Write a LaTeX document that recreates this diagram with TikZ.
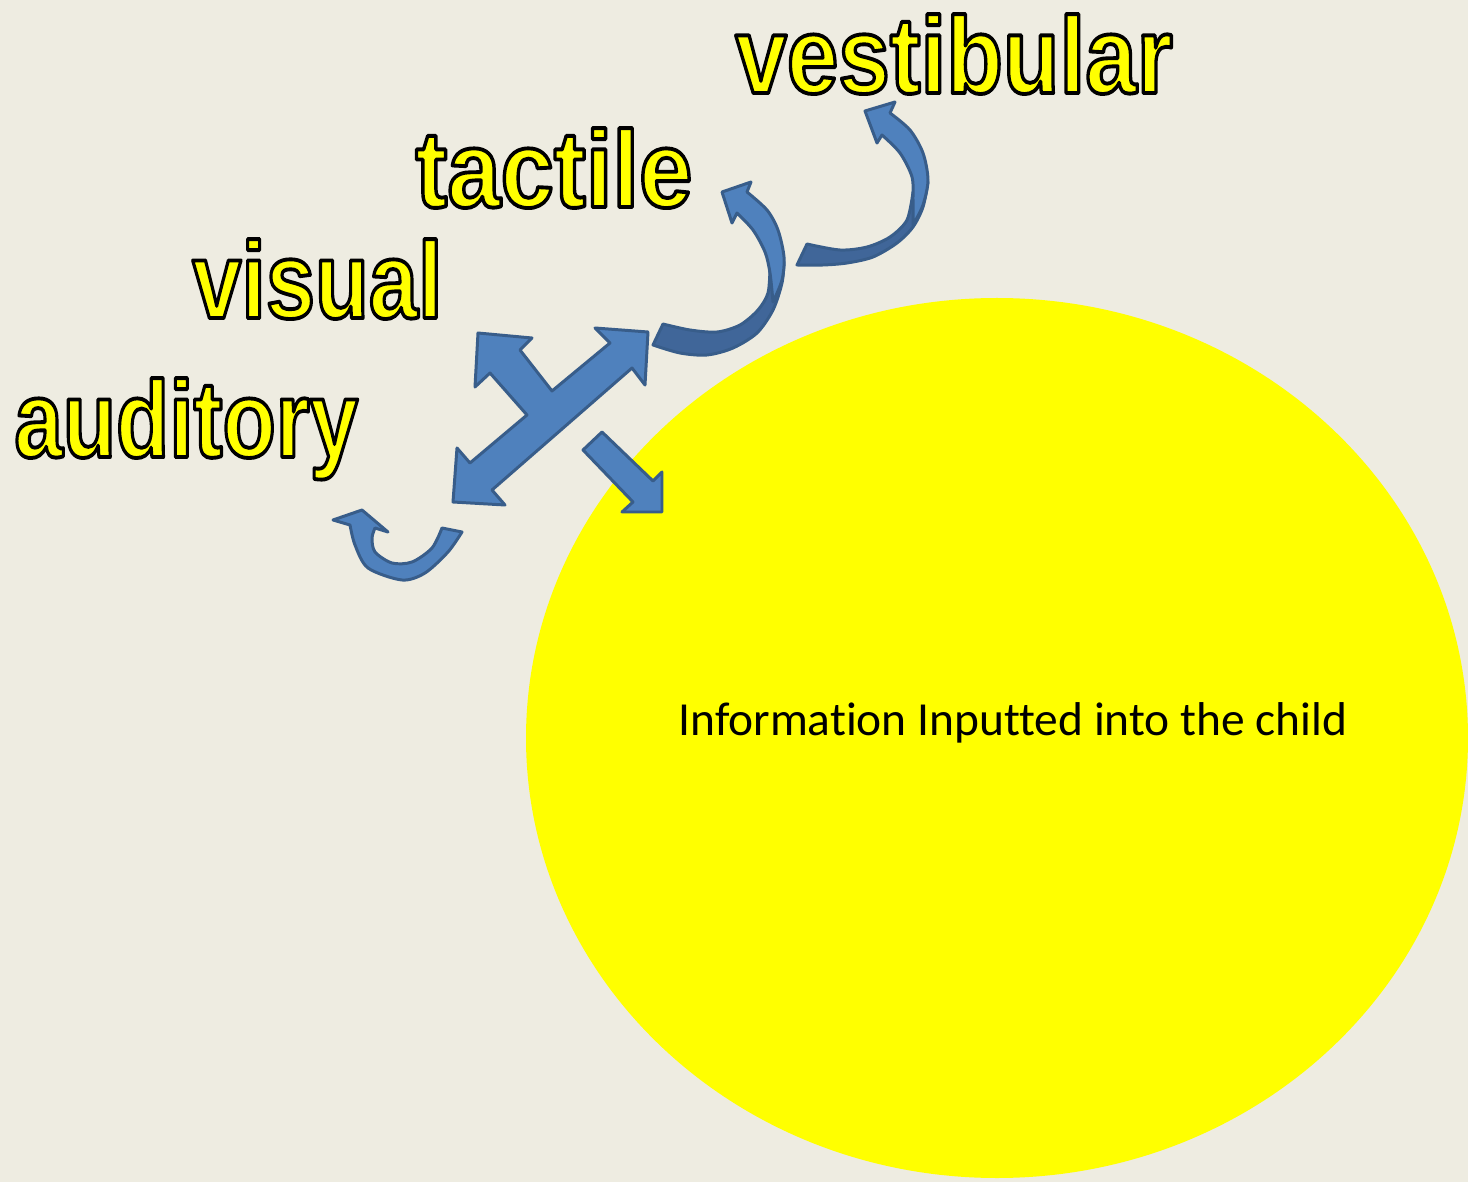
\documentclass[tikz,border=0pt]{standalone}
\usepackage{fontspec}
\usepackage{graphicx}
\newfontfamily\sensefont{Liberation Sans}
\newfontfamily\notefont{Carlito}[Ligatures=NoCommon]
\definecolor{slidecream}{RGB}{238,236,225}
\definecolor{childyellow}{RGB}{255,255,0}
\definecolor{arrowblue}{RGB}{79,129,189}
\definecolor{arrowedge}{RGB}{56,93,138}
\definecolor{arrowshade}{RGB}{64,102,153}
% outlined, squeezed word (fill then stroke the glyphs)
\newcommand{\senseword}[2]{\scalebox{#1}[1]{\special{pdf:literal direct 0 0 0 RG 2.2 w 1 j 2 Tr}#2\special{pdf:literal direct 0 Tr}}}

\begin{document}
\begin{tikzpicture}[
    x=0.02cm, y=-0.02cm,
    sense/.style={anchor=base west, inner sep=0pt, text=childyellow, font=\sensefont\bfseries\fontsize{62}{70}\selectfont},
    note/.style={font=\notefont\fontsize{27}{32}\selectfont, text=black},
    blockarrow/.style={fill=arrowblue, draw=arrowedge, line width=1.7pt, line join=round},
    shadearrow/.style={fill=arrowshade, draw=arrowedge, line width=1.7pt, line join=round}
]

% Slide
\useasboundingbox (0,0) rectangle (1468,1182);
\clip (0,0) rectangle (1468,1182);
\fill[slidecream] (0,0) rectangle (1468,1182);

% Child
\fill[childyellow] (997,738) ellipse [x radius=471, y radius=440];
\node[note] (child) at (1013,723) {Information Inputted into the child};

% Senses
\node[sense] (vestibular) at (735,93) {\senseword{0.85}{vestibular}};
\node[sense] (tactile) at (415,207) {\senseword{0.88}{tactile}};
\node[sense] (visual) at (192,318) {\senseword{0.81}{visual}};
\node[sense] (auditory) at (14,457) {\senseword{0.80}{auditory}};

% Cross arrow
\filldraw[blockarrow] (648,332) -- (645,385) -- (632,368) -- (492,490) -- (505,505)
  -- (453,502) -- (457,448) -- (470,463) -- (527,415) -- (490,373) -- (475,387)
  -- (478,333) -- (532,338) -- (520,350) -- (552,391) -- (610,343) -- (595,328) -- cycle;

% Into the child
\filldraw[blockarrow] (583,450) -- (602,432) -- (653,481) -- (662,472) -- (662,512)
  -- (622,512) -- (633,502) -- cycle;

% Auditory loop
\filldraw[blockarrow] plot[smooth] coordinates {(350,525) (355,545) (368,568) (402,580) (425,573) (448,552) (462,532)}
  -- plot[smooth] coordinates {(442,528) (432,548) (412,562) (392,563) (375,552) (372,538) (375,528)}
  -- (388,532) -- (362,510) -- (333,520) -- cycle;

% Tactile loop
\filldraw[shadearrow] plot[smooth] coordinates {(653,345) (680,353) (707,355) (733,348) (757,333) (773,310) (782,283) (784,262)}
  -- plot[smooth] coordinates {(770,268) (768,293) (758,310) (740,325) (717,332) (690,330) (663,324)} -- cycle;
\filldraw[blockarrow] plot[smooth] coordinates {(773,302) (782,280) (784,257) (778,230) (767,210) (747,192)}
  -- (751,182) -- (722,192) -- (732,223) -- (737,213)
  -- plot[smooth] coordinates {(737,213) (753,230) (765,252) (770,273) (773,302)} -- cycle;

% Vestibular loop
\filldraw[shadearrow] plot[smooth] coordinates {(797,265) (823,265) (847,263) (873,257) (897,243) (913,227) (923,207) (928,182)}
  -- plot[smooth] coordinates {(913,192) (907,220) (890,237) (867,247) (840,250) (807,244)} -- cycle;
\filldraw[blockarrow] plot[smooth] coordinates {(913,225) (923,205) (928,180) (923,153) (910,130) (890,113)}
  -- (895,102) -- (865,111) -- (877,143) -- (882,135)
  -- plot[smooth] coordinates {(882,135) (900,153) (912,177) (913,200) (913,225)} -- cycle;

\end{tikzpicture}
\end{document}
